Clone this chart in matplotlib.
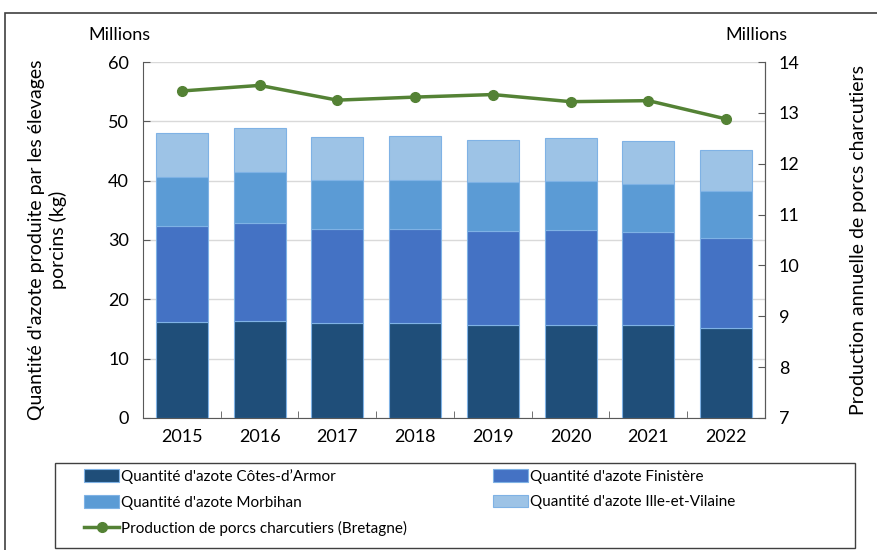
import numpy as np
import matplotlib.pyplot as plt
from matplotlib.patches import Rectangle

plt.rcParams['font.family'] = ['Lato', 'DejaVu Sans']

years = ['2015', '2016', '2017', '2018', '2019', '2020', '2021', '2022']
cotes_armor = [16.1, 16.35, 15.95, 16.0, 15.7, 15.75, 15.6, 15.1]
finistere = [16.3, 16.55, 15.85, 15.9, 15.9, 15.95, 15.75, 15.2]
morbihan = [8.3, 8.6, 8.3, 8.2, 8.2, 8.2, 8.15, 7.9]
ille_vilaine = [7.3, 7.4, 7.3, 7.4, 7.1, 7.3, 7.2, 7.0]
production = [13.43, 13.54, 13.25, 13.31, 13.36, 13.22, 13.24, 12.88]

colors = ['#1F4E79', '#4472C4', '#5B9BD5', '#9DC3E6']
labels = ["Quantité d'azote Côtes-d’Armor", "Quantité d'azote Finistère",
          "Quantité d'azote Morbihan", "Quantité d'azote Ille-et-Vilaine"]

fig = plt.figure(figsize=(8.78, 5.5), dpi=100)
ax = fig.add_axes([143/878, 1-418/550, (765-143)/878, (418-62)/550])

x = np.arange(len(years))
bottom = np.zeros(len(years))
bars = []
for vals, c, lab in zip([cotes_armor, finistere, morbihan, ille_vilaine], colors, labels):
    b = ax.bar(x, vals, 0.67, bottom=bottom, color=c, edgecolor='#7FB2E5', linewidth=0.8, label=lab, zorder=3)
    bars.append(b)
    bottom += np.array(vals)

ax.set_xlim(-0.5, 7.5)
ax.set_ylim(0, 60)
ax.set_yticks(range(0, 61, 10))
ax.yaxis.grid(True, color='#D9D9D9', linewidth=1, zorder=0)
ax.set_xticks(x)
ax.set_xticklabels(years)
ax.set_xticks(np.arange(-0.5, 8, 1), minor=True)
ax.tick_params(axis='x', which='major', length=0, labelsize=13, pad=8)
ax.tick_params(axis='x', which='minor', direction='in', length=5, color='#595959')
ax.tick_params(axis='y', direction='in', length=5, color='#595959', labelsize=13, pad=10)
for s in ['left', 'bottom', 'right']:
    ax.spines[s].set_color('#595959')
ax.spines['top'].set_visible(False)
ax.set_ylabel("Quantité d'azote produite par les élevages\nporcins (kg)", fontsize=14, labelpad=30)

ax2 = ax.twinx()
line, = ax2.plot(x, production, color='#548235', linewidth=2.5, marker='o', markersize=7,
                 label='Production de porcs charcutiers (Bretagne)', zorder=4)
ax2.set_ylim(7, 14)
ax2.set_yticks(range(7, 15))
ax2.tick_params(axis='y', direction='in', length=5, color='#595959', labelsize=13, pad=10)
ax2.spines['right'].set_color('#595959')
ax2.spines['left'].set_visible(False)
ax2.spines['top'].set_visible(False)
ax2.spines['bottom'].set_visible(False)
ax2.set_ylabel('Production annuelle de porcs charcutiers', fontsize=14, labelpad=36)

fig.text(88/878, 1-35/550, 'Millions', fontsize=13, va='center', ha='left')
fig.text(725/878, 1-35/550, 'Millions', fontsize=13, va='center', ha='left')

# legend frame and two legend columns
fig.patches.append(Rectangle((55/878, 1-548/550), 800/878, 85/550, transform=fig.transFigure,
                             fill=False, edgecolor='#404040', linewidth=1))
leg_kw = dict(loc='upper left', fontsize=11, frameon=False, handlelength=2.3,
              handleheight=0.9, handletextpad=0.15, borderaxespad=0, borderpad=0,
              labelspacing=0.72)
left_h = [bars[0], bars[2], line]
right_h = [bars[1], bars[3]]
leg1 = fig.legend(left_h, [h.get_label() for h in left_h],
                  bbox_to_anchor=(84/878, 1-469/550), **leg_kw)
leg2 = fig.legend(right_h, [h.get_label() for h in right_h],
                  bbox_to_anchor=(493/878, 1-469/550), **leg_kw)

fig.patches.append(Rectangle((5/878, -0.01), 1.0, 1-13/550 + 0.01, transform=fig.transFigure,
                             fill=False, edgecolor='#404040', linewidth=1.2))

fig.savefig('out.png', dpi=100)
